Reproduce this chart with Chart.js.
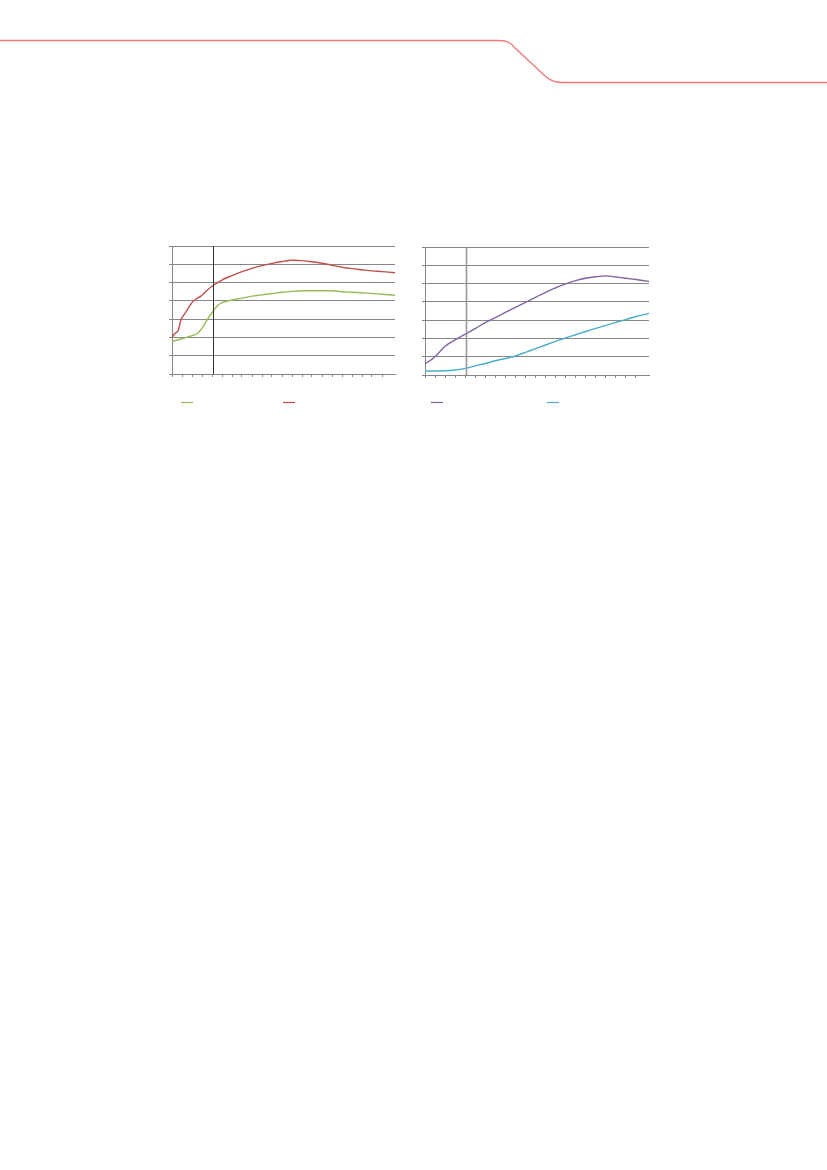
<!DOCTYPE html>
<html>
<head>
<meta charset="utf-8">
<script src="https://cdn.jsdelivr.net/npm/chart.js@4.4.0/dist/chart.umd.min.js"></script>
<style>
  html, body { margin: 0; padding: 0; background: #fff; }
  body { width: 827px; height: 1170px; position: relative; overflow: hidden; }
  .box { position: absolute; width: 260px; height: 185px; }
  #header { position: absolute; left: 0; top: 0; }
</style>
</head>
<body>
<svg id="header" width="827" height="100">
  <path d="M0 40.5 H497 C506 40.5 510 42 514 47 L544 75 C549 80 554 82.5 562 82.5 H827"
        fill="none" stroke="#f37878" stroke-width="1.3"/>
</svg>
<div class="box" style="left:150px; top:230px;"><canvas id="left"></canvas></div>
<div class="box" style="left:405px; top:230px;"><canvas id="right"></canvas></div>
<script>
// x positions (axis units) and values, in gridline steps
const greenX = [0, 1, 2, 2.5, 3, 3.5, 4, 4.5, 5, 6, 7, 8, 9, 10, 11, 12, 13, 14, 15, 16, 17, 18, 19, 20, 21, 22.3];
const greenY = [1.79, 1.93, 2.1, 2.2, 2.5, 2.95, 3.35, 3.7, 3.9, 4.05, 4.15, 4.26, 4.33, 4.4, 4.47, 4.52, 4.55, 4.55, 4.55, 4.55, 4.5, 4.47, 4.44, 4.4, 4.36, 4.31];

const redX = [0, 0.26, 0.6, 0.92, 1.4, 2, 2.4, 2.9, 3.4, 4, 5, 6, 7, 8, 9, 10, 11, 12, 13, 14, 15, 16, 17, 18, 19, 20, 21, 22.3];
const redY = [2.0, 2.2, 2.35, 3.0, 3.4, 3.9, 4.1, 4.26, 4.52, 4.8, 5.14, 5.38, 5.6, 5.78, 5.93, 6.05, 6.15, 6.22, 6.2, 6.14, 6.06, 5.95, 5.84, 5.76, 5.7, 5.64, 5.6, 5.54];

const rightX = [0, 1, 2, 3, 4, 5, 6, 7, 8, 9, 10, 11, 12, 13, 14, 15, 16, 17, 18, 19, 20, 21, 22.3];
const purpleY = [0.6, 1.0, 1.57, 1.92, 2.24, 2.54, 2.86, 3.14, 3.42, 3.7, 3.97, 4.25, 4.52, 4.77, 4.98, 5.16, 5.29, 5.37, 5.42, 5.36, 5.29, 5.22, 5.12];
const cyanY = [0.22, 0.22, 0.23, 0.27, 0.36, 0.5, 0.63, 0.78, 0.9, 1.04, 1.24, 1.44, 1.64, 1.84, 2.03, 2.2, 2.38, 2.55, 2.71, 2.88, 3.03, 3.2, 3.37];

const yTicks = [0, 1, 2, 3, 4, 5, 6, 7];
const markerX = 4.1;

const GRID = '#868686';

function pts(xs, ys) {
  return xs.map((x, i) => ({ x: x, y: ys[i] }));
}

// vertical marker line + little legend strokes under the plot
const extras = {
  id: 'extras',
  afterDatasetsDraw(chart, args, opts) {
    const { ctx, chartArea, scales } = chart;
    const px = Math.round(scales.x.getPixelForValue(markerX)) + 0.5;
    ctx.save();
    ctx.strokeStyle = opts.markerColor;
    ctx.lineWidth = opts.markerWidth;
    ctx.beginPath();
    ctx.moveTo(px, chartArea.top);
    ctx.lineTo(px, chartArea.bottom);
    ctx.stroke();

    ctx.lineWidth = 1.2;
    opts.legend.forEach((l, i) => {
      ctx.strokeStyle = chart.data.datasets[i].borderColor;
      ctx.beginPath();
      ctx.moveTo(l[0], opts.legendY);
      ctx.lineTo(l[0] + 12, opts.legendY);
      ctx.stroke();
    });
    ctx.restore();
  }
};

function makeChart(id, datasets, padding, extraOpts) {
  return new Chart(document.getElementById(id), {
    type: 'line',
    data: { datasets: datasets },
    options: {
      responsive: false,
      animation: false,
      layout: { padding: padding },
      elements: {
        point: { radius: 0 },
        line: { borderWidth: 1.4, tension: 0.3 }
      },
      plugins: {
        legend: { display: false },
        tooltip: { enabled: false },
        extras: extraOpts
      },
      scales: {
        x: {
          type: 'linear',
          min: 0,
          max: 22.3,
          afterBuildTicks: s => { s.ticks = s.ticks.filter(t => Number.isInteger(t.value)); },
          ticks: { stepSize: 1, display: false },
          grid: { drawOnChartArea: false, drawTicks: true, tickLength: 3, color: GRID },
          border: { color: GRID }
        },
        y: {
          min: yTicks[0],
          max: yTicks[yTicks.length - 1],
          ticks: { stepSize: 1, display: false },
          grid: { color: GRID, tickLength: 3, lineWidth: 1 },
          border: { color: GRID }
        }
      }
    },
    plugins: [extras]
  });
}

const leftCanvas = document.getElementById('left');
leftCanvas.width = 260; leftCanvas.height = 185;
const rightCanvas = document.getElementById('right');
rightCanvas.width = 260; rightCanvas.height = 185;

makeChart('left', [
  { label: '', data: pts(greenX, greenY), borderColor: '#9bbb59' },
  { label: '', data: pts(redX, redY), borderColor: '#c0504d' }
], { left: 19, top: 16, right: 15, bottom: 38 },
{ markerColor: '#333333', markerWidth: 1, legendY: 172.5, legend: [[31], [133]] });

makeChart('right', [
  { label: '', data: pts(rightX, purpleY), borderColor: '#8064a2' },
  { label: '', data: pts(rightX, cyanY), borderColor: '#4bacc6' }
], { left: 17, top: 17, right: 16, bottom: 37 },
{ markerColor: '#9a9a9a', markerWidth: 1.6, legendY: 172.5, legend: [[26], [142]] });
</script>
</body>
</html>
